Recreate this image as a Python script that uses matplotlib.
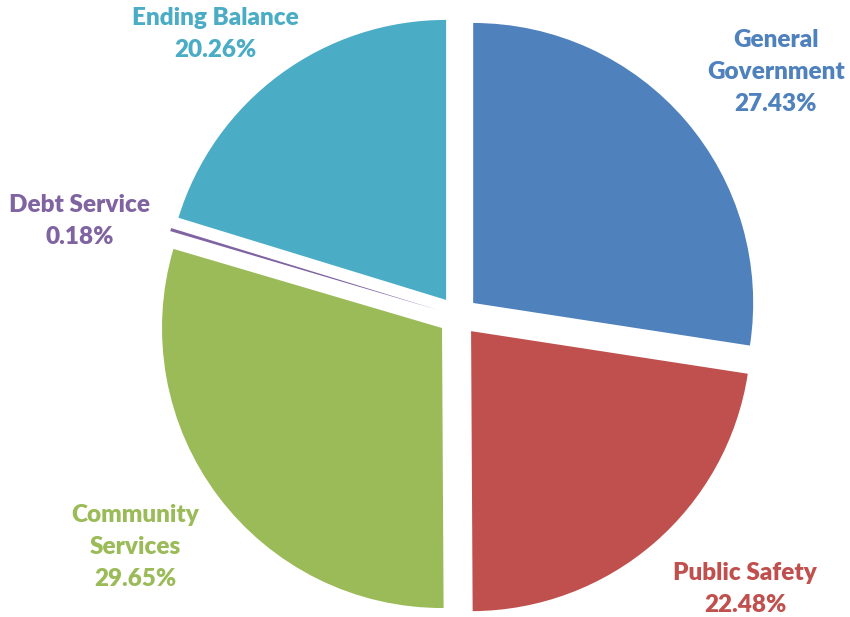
import matplotlib.pyplot as plt

categories = ['General\nGovernment', 'Public Safety', 'Community\nServices',
              'Debt Service', 'Ending Balance']
shares = [27.43, 22.48, 29.65, 0.18, 20.26]
colors = ['#4F81BD', '#C0504D', '#9BBB59', '#8064A2', '#4BACC6']

# label centres in figure pixels (x, y from top)
label_pos = [(776, 72), (745, 589), (135, 547), (80, 221), (215, 34)]

fig = plt.figure(figsize=(8.5, 6.17), dpi=100)
ax = fig.add_axes([0, 0, 1, 1])

ax.pie(shares, colors=colors, startangle=90, counterclock=False,
       radius=280, center=(458, 617 - 316), explode=[20] * len(shares),
       wedgeprops={'linewidth': 0}, frame=True)
ax.set_xlim(0, 850)
ax.set_ylim(0, 617)
ax.set_aspect('equal')
ax.axis('off')

for cat, val, col, (x, y) in zip(categories, shares, colors, label_pos):
    ax.text(x, 617 - y, '{}\n{:.2f}%'.format(cat, val), color=col,
            ha='center', va='center', fontsize=17.5, fontweight='heavy',
            family='Lato', linespacing=1.55)

fig.savefig('out.png', dpi=100)
